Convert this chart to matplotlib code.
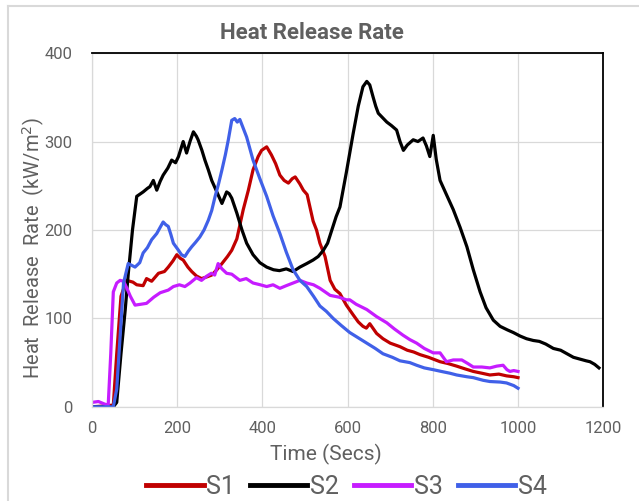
import matplotlib
matplotlib.use("Agg")
import matplotlib.pyplot as plt
from matplotlib.lines import Line2D

plt.rcParams['font.family'] = ['Roboto', 'DejaVu Sans']

# S1 (dark red)
t_s1 = [0, 30, 50, 58, 68, 81, 96, 105, 120, 128, 140, 156, 170, 179, 190, 199, 207, 214, 225, 234,
        245, 257, 270, 281, 293, 305, 318, 328, 340, 355, 367, 378, 390, 398, 410, 421, 431, 441, 451,
        461, 470, 477, 488, 496, 505, 512, 519, 527, 535, 547, 559, 570, 582, 597, 613, 625, 636, 644,
        652, 668, 683, 700, 723, 740, 755, 770, 790, 817, 835, 856, 875, 895, 915, 934, 955, 973, 990, 1000]
v_s1 = [0, 1, 2, 60, 125, 143, 141, 138, 137, 145, 142, 151, 153, 158, 165, 172, 168, 166, 158, 153,
        148, 145, 147, 149, 155, 162, 170, 177, 190, 223, 245, 268, 283, 290, 294, 285, 275, 262, 256,
        253, 258, 260, 252, 245, 240, 225, 210, 200, 185, 170, 143, 133, 128, 115, 104, 96, 91, 89,
        94, 83, 77, 72, 68, 64, 62, 59, 56, 51, 49, 46, 43, 40, 38, 36, 37, 35, 34, 33]

# S2 (black)
t_s2 = [0, 30, 50, 58, 68, 78, 85, 95, 105, 120, 130, 136, 144, 152, 160, 167, 178, 187, 196, 203,
        214, 222, 230, 238, 245, 249, 258, 265, 273, 281, 293, 305, 316, 322, 328, 340, 352, 363, 378,
        394, 410, 426, 440, 456, 472, 488, 504, 519, 531, 543, 553, 563, 573, 582, 597, 613, 625, 636,
        645, 652, 660, 666, 672, 680, 692, 703, 715, 723, 731, 740, 754, 765, 777, 785, 793, 801, 808,
        817, 832, 848, 864, 880, 895, 911, 925, 942, 958, 975, 989, 1005, 1020, 1036, 1050, 1065, 1083,
        1100, 1115, 1130, 1145, 1160, 1169, 1180, 1190]
v_s2 = [0, 0, 0, 5, 60, 110, 150, 200, 238, 243, 247, 249, 256, 245, 255, 262, 270, 279, 276, 283,
        300, 287, 300, 311, 306, 302, 290, 279, 268, 256, 243, 230, 243, 241, 236, 219, 200, 185, 172,
        163, 158, 155, 154, 156, 153, 158, 162, 166, 170, 177, 185, 200, 215, 226, 265, 309, 340, 362,
        368, 364, 350, 340, 332, 328, 322, 318, 313, 300, 290, 296, 302, 300, 304, 295, 283, 307, 280,
        256, 240, 223, 203, 181, 155, 130, 112, 98, 91, 87, 84, 80, 77, 75, 74, 71, 66,
        64, 60, 56, 54, 52, 51, 48, 44]

# S3 (magenta)
t_s3 = [0, 15, 30, 38, 44, 50, 58, 66, 74, 81, 90, 101, 115, 128, 145, 160, 179, 191, 205, 218, 230,
        245, 257, 270, 280, 288, 296, 305, 316, 328, 347, 362, 378, 395, 410, 425, 441, 456, 472, 488,
        504, 520, 535, 547, 559, 580, 597, 605, 620, 645, 668, 692, 710, 730, 746, 762, 780, 801, 817,
        832, 848, 868, 882, 895, 915, 934, 950, 965, 974, 981, 990, 1000]
v_s3 = [5, 6, 3, 2, 60, 130, 140, 143, 142, 135, 125, 115, 116, 117, 124, 129, 132, 136, 138, 136, 140,
        146, 143, 148, 151, 149, 162, 156, 151, 150, 143, 145, 140, 138, 136, 138, 134, 137, 140, 143,
        140, 138, 134, 130, 126, 124, 121, 121, 116, 110, 102, 95, 88, 81, 76, 72, 66, 61, 61,
        51, 53, 53, 49, 45, 45, 44, 46, 47, 42, 40, 41, 40]

# S4 (blue)
t_s4 = [0, 30, 50, 58, 66, 74, 85, 101, 112, 120, 130, 140, 152, 160, 167, 173, 179, 185, 191, 203,
        210, 218, 226, 234, 243, 253, 263, 273, 281, 289, 297, 305, 313, 320, 328, 335, 341, 347, 355,
        363, 378, 394, 410, 425, 441, 456, 472, 488, 504, 520, 535, 550, 566, 585, 605, 625, 645, 665,
        683, 705, 723, 746, 762, 780, 801, 820, 840, 856, 880, 895, 918, 934, 958, 973, 990, 1000]
v_s4 = [0, 0, 0, 20, 80, 140, 162, 158, 163, 174, 180, 189, 196, 203, 209, 206, 204, 195, 185, 177,
        172, 170, 176, 181, 186, 192, 200, 211, 222, 238, 252, 268, 285, 302, 324, 326, 322, 325, 315,
        305, 279, 258, 238, 216, 196, 175, 155, 143, 136, 125, 114, 108, 100, 92, 84, 78, 72, 66,
        60, 56, 52, 50, 47, 44, 42, 40, 38, 36, 34, 33, 30, 28.6, 28, 27, 24, 21]

series = [
    ('S1', t_s1, v_s1, '#c00000'),
    ('S2', t_s2, v_s2, '#000000'),
    ('S3', t_s3, v_s3, '#c61cff'),
    ('S4', t_s4, v_s4, '#4060e8'),
]

gray = '#606060'

fig = plt.figure(figsize=(6.39, 5.01), dpi=100)
ax = fig.add_axes([0.144, 0.188, 0.800, 0.706])

for name, t, v, c in series:
    ax.plot(t, v, color=c, lw=2.3, label=name, solid_joinstyle='round')

ax.set_xlim(0, 1200)
ax.set_ylim(0, 400)
ax.set_xticks(range(0, 1201, 200))
ax.set_yticks(range(0, 401, 100))
ax.grid(True, color='#d9d9d9', lw=0.9)
ax.set_axisbelow(True)
ax.tick_params(length=0, labelsize=12, labelcolor=gray)
ax.tick_params(axis='x', pad=10)
ax.tick_params(axis='y', pad=14)

for side in ['top', 'right']:
    ax.spines[side].set_color('black')
    ax.spines[side].set_linewidth(1.3)
for side in ['left', 'bottom']:
    ax.spines[side].set_color('#d9d9d9')
    ax.spines[side].set_linewidth(0.9)

ax.set_xlabel('Time (Secs)', fontsize=15, color=gray)
ax.xaxis.set_label_coords(0.458, -0.105)
ax.set_ylabel('Heat  Release  Rate  (kW/m$^2$)', fontsize=14.5, color=gray)
ax.yaxis.set_label_coords(-0.088, 0.45)
fig.text(0.488, 0.934, 'Heat Release Rate', ha='center', va='center',
         fontsize=16, fontweight='bold', color=gray)

leg = ax.legend(loc='center', bbox_to_anchor=(0.542, 0.028), bbox_transform=fig.transFigure,
                ncol=4, frameon=False, handlelength=2.3, handletextpad=0.1,
                columnspacing=0.6, labelcolor=gray, prop={'size': 18})
for line in leg.get_lines():
    line.set_linewidth(3.5)

# light frame round the chart
fig.add_artist(Line2D([0.012, 1.0], [0.988, 0.988], color='#d9d9d9', lw=1.5))
fig.add_artist(Line2D([0.012, 0.012], [0.0, 0.988], color='#d9d9d9', lw=1.5))

fig.savefig('out.png', dpi=100)
